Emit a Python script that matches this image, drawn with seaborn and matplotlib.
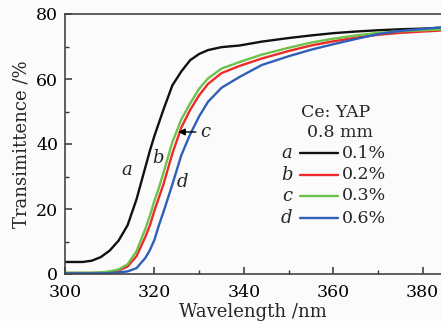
import numpy as np
import pandas as pd
import seaborn as sns
import matplotlib.pyplot as plt
from matplotlib.ticker import MultipleLocator

# Transmittance spectra of Ce:YAP crystals (0.8 mm thick)
wavelength = [300, 304, 306, 308, 310, 312, 314, 316, 318, 319, 320, 321, 322, 324, 326,
              328, 330, 332, 335, 339, 344, 350, 355, 360, 365, 370, 375, 380, 385]
trans_a = [3.7, 3.7, 4.1, 5.2, 7.2, 10.3, 15.0, 23.0, 33.0, 38.0, 42.5, 46.5, 50.5, 58.0, 62.3,
           65.8, 67.7, 68.9, 69.8, 70.3, 71.5, 72.6, 73.4, 74.1, 74.6, 75.0, 75.3, 75.5, 75.8]
trans_b = [0.3, 0.3, 0.3, 0.4, 0.6, 1.1, 2.3, 5.5, 11.5, 15.0, 19.5, 23.5, 27.5, 37.0, 45.0,
           50.5, 55.0, 58.5, 61.8, 64.0, 66.3, 68.6, 70.3, 71.6, 72.7, 73.6, 74.2, 74.6, 75.0]
trans_c = [0.4, 0.4, 0.4, 0.5, 0.8, 1.4, 3.0, 7.0, 14.0, 18.0, 22.5, 26.5, 31.0, 40.5, 47.5,
           52.5, 57.0, 60.2, 63.2, 65.2, 67.5, 69.6, 71.2, 72.4, 73.4, 74.2, 74.7, 75.0, 75.3]
trans_d = [0.2, 0.2, 0.2, 0.2, 0.3, 0.5, 0.8, 1.8, 5.0, 7.4, 10.5, 15.0, 19.0, 27.5, 36.5,
           43.0, 48.5, 53.0, 57.3, 60.6, 64.3, 67.0, 69.0, 70.7, 72.3, 73.8, 74.8, 75.4, 76.0]

letters = ["a", "b", "c", "d"]
concentrations = ["0.1%", "0.2%", "0.3%", "0.6%"]
colors = ["#111111", "#ee2a2a", "#6cc24a", "#2f5fb8"]

df = pd.concat([
    pd.DataFrame({"wl": wavelength, "T": t, "sample": s})
    for t, s in zip([trans_a, trans_b, trans_c, trans_d], letters)
])

sns.set_theme(style="ticks")
plt.rcParams["font.family"] = ["DejaVu Serif"]
plt.rcParams["mathtext.fontset"] = "dejavuserif"

fig = plt.figure(figsize=(4.41, 3.21), dpi=100, facecolor="#fbfbfb")
ax = fig.add_axes([65 / 441, 47 / 321, 376 / 441, 260 / 321])
ax.set_facecolor("#fbfbfb")

sns.lineplot(data=df, x="wl", y="T", hue="sample", palette=dict(zip(letters, colors)),
             linewidth=1.7, legend=False, ax=ax, sort=False, estimator=None)

ax.set_xlim(300, 384.1)
ax.set_ylim(0, 80)
ax.xaxis.set_major_locator(MultipleLocator(20))
ax.xaxis.set_minor_locator(MultipleLocator(10))
ax.yaxis.set_major_locator(MultipleLocator(20))
ax.yaxis.set_minor_locator(MultipleLocator(10))
ax.tick_params(which="both", direction="in", colors="#333333", labelcolor="black",
               labelsize=12.5, top=False, right=False)
ax.tick_params(which="major", length=5, width=1.1)
ax.tick_params(which="minor", length=3, width=1.0)
ax.tick_params(axis="x", which="major", pad=7.5)
ax.tick_params(axis="y", which="major", pad=5)
for side in ["left", "bottom", "top"]:
    ax.spines[side].set_color("#444444")
    ax.spines[side].set_linewidth(1.2)
ax.spines["right"].set_visible(False)

ax.set_xlabel("Wavelength /nm", fontsize=13, labelpad=1)
ax.set_ylabel("Transimittence /%", fontsize=13, labelpad=4)

# curve labels
ax.text(313.9, 32, "a", fontsize=13, style="italic", ha="center", va="center")
ax.text(320.8, 35.7, "b", fontsize=13, style="italic", ha="center", va="center")
ax.text(326.2, 28.3, "d", fontsize=13, style="italic", ha="center", va="center")
ax.annotate("c", xy=(325.3, 43.7), xytext=(330.3, 43.7), fontsize=13, style="italic",
            ha="left", va="center",
            arrowprops=dict(arrowstyle="-|>", color="black", lw=1.0,
                            mutation_scale=10, shrinkA=1, shrinkB=0))

# key
ax.text(0.721, 0.623, "Ce: YAP", transform=ax.transAxes, fontsize=12.5,
        ha="center", va="center")
ax.text(0.731, 0.546, "0.8 mm", transform=ax.transAxes, fontsize=12.5,
        ha="center", va="center")
rows_y = [0.465, 0.381, 0.300, 0.215]
for letter, conc, col, yy in zip(letters, concentrations, colors, rows_y):
    ax.text(0.590, yy, letter, transform=ax.transAxes, fontsize=13, style="italic",
            ha="center", va="center")
    ax.plot([0.625, 0.726], [yy, yy], transform=ax.transAxes, color=col, lw=1.7)
    ax.text(0.737, yy, conc, transform=ax.transAxes, fontsize=12.5,
            ha="left", va="center")

fig.savefig("out.png", dpi=100, facecolor=fig.get_facecolor())
